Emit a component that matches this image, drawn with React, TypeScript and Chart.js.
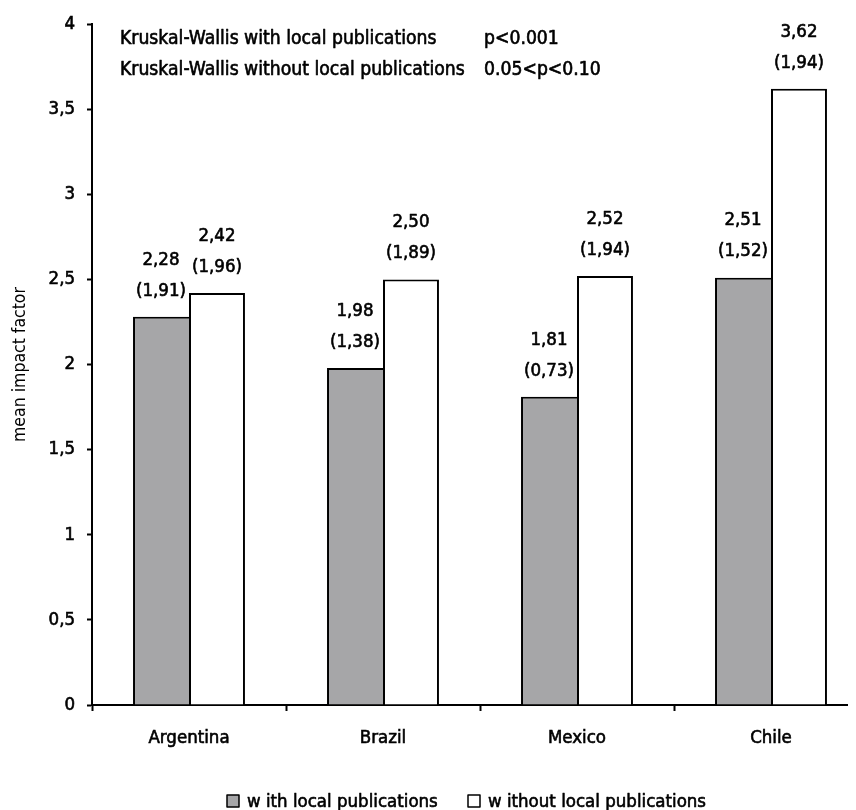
import React, { useEffect, useRef } from "react";
import { Chart, registerables } from "chart.js";

Chart.register(...registerables);

const categories = ["Argentina", "Brazil", "Mexico", "Chile"];
const withLocal = [2.28, 1.98, 1.81, 2.51];
const withoutLocal = [2.42, 2.5, 2.52, 3.62];
const withLocalSD = [1.91, 1.38, 0.73, 1.52];
const withoutLocalSD = [1.96, 1.89, 1.94, 1.94];
const seriesNames = ["w ith local publications", "w ithout local publications"];
const testNames = ["Kruskal-Wallis with local publications", "Kruskal-Wallis without local publications"];
const testResults = ["p<0.001", "0.05<p<0.10"];
const yTitle = "mean impact factor";

const FONT = "'DejaVu Sans Condensed', 'Liberation Sans Narrow', sans-serif";
const SIZE = 18.5;
const STROKE = 0.6;
const GRAY = "#a6a6a8";

const fmt = (v: number) => v.toFixed(2).replace(".", ",");

const overlay = {
  id: "overlay",
  afterDatasetsDraw(chart: any) {
    const ctx = chart.ctx;
    ctx.save();
    ctx.fillStyle = "#000";
    ctx.strokeStyle = "#000";
    ctx.lineWidth = STROKE;
    ctx.lineJoin = "round";
    ctx.font = `${SIZE}px ${FONT}`;
    ctx.textAlign = "center";
    ctx.textBaseline = "middle";
    const txt = (s: string, x: number, y: number) => {
      ctx.fillText(s, x, y);
      ctx.strokeText(s, x, y);
    };
    const sds = [withLocalSD, withoutLocalSD];
    chart.data.datasets.forEach((ds: any, di: number) => {
      const meta = chart.getDatasetMeta(di);
      meta.data.forEach((el: any, i: number) => {
        txt(fmt(ds.data[i]), el.x, el.y - 57);
        txt(`(${fmt(sds[di][i])})`, el.x, el.y - 26);
      });
    });
    ctx.textAlign = "left";
    ctx.font = `19.2px ${FONT}`;
    const ys = [31, 62];
    testNames.forEach((t, i) => {
      txt(t, 112, ys[i]);
      txt(testResults[i], 476, ys[i]);
    });
    ctx.font = `${SIZE}px ${FONT}`;
    const lx = [219, 460];
    const fills = [GRAY, "#fff"];
    seriesNames.forEach((n, i) => {
      ctx.fillStyle = fills[i];
      ctx.fillRect(lx[i], 787, 12, 12);
      ctx.lineWidth = 1.5;
      ctx.strokeRect(lx[i], 787, 12, 12);
      ctx.fillStyle = "#000";
      ctx.lineWidth = STROKE;
      txt(n, lx[i] + 20, 794);
    });
    ctx.restore();
  },
};

export default function App() {
  const ref = useRef<HTMLCanvasElement>(null);
  useEffect(() => {
    document.body.style.overflow = "hidden";
    const tickFont = { family: FONT, size: SIZE };
    const chart = new Chart(ref.current!, {
      type: "bar",
      data: {
        labels: categories,
        datasets: [
          {
            label: seriesNames[0],
            data: withLocal,
            backgroundColor: GRAY,
            borderColor: "#000",
            borderWidth: { top: 2, left: 2, right: 0, bottom: 0 },
            borderSkipped: false,
            categoryPercentage: 0.577,
            barPercentage: 1,
          },
          {
            label: seriesNames[1],
            data: withoutLocal,
            backgroundColor: "#fff",
            borderColor: "#000",
            borderWidth: { top: 2, left: 2, right: 2, bottom: 0 },
            borderSkipped: false,
            categoryPercentage: 0.577,
            barPercentage: 1,
          },
        ],
      },
      options: {
        animation: false,
        responsive: false,
        devicePixelRatio: 1,
        layout: { padding: { top: 16, right: 20, left: 0, bottom: 0 } },
        plugins: { legend: { display: false }, tooltip: { enabled: false } },
        scales: {
          x: {
            afterFit: (s: any) => {
              s.height = 105;
            },
            grid: {
              drawOnChartArea: false,
              tickLength: 6,
              tickColor: "#000",
              tickWidth: 2,
            },
            border: { color: "#000", width: 2 },
            ticks: {
              color: "#000",
              font: tickFont,
              padding: 16,
              textStrokeColor: "#000",
              textStrokeWidth: STROKE,
            },
          },
          y: {
            min: 0,
            max: 4,
            afterFit: (s: any) => {
              s.width = 84;
              s.paddingTop = 0;
              s.paddingBottom = 0;
            },
            grid: {
              drawOnChartArea: false,
              tickLength: 5,
              tickColor: "#000",
              tickWidth: 2,
            },
            border: { color: "#000", width: 2 },
            ticks: {
              stepSize: 0.5,
              color: "#000",
              padding: 12,
              font: tickFont,
              textStrokeColor: "#000",
              textStrokeWidth: STROKE,
              callback: (v: any) => String(v).replace(".", ","),
            },
            title: {
              display: true,
              text: yTitle,
              color: "#000",
              font: { family: FONT, size: 17.5 },
              padding: { top: 2, bottom: 0 },
            },
          },
        },
      },
      plugins: [overlay],
    });
    return () => chart.destroy();
  }, []);
  return (
    <div style={{ width: 848, height: 802, overflow: "hidden" }}>
      <canvas ref={ref} width={880} height={802} style={{ display: "block", width: 880, height: 802 }} />
    </div>
  );
}
